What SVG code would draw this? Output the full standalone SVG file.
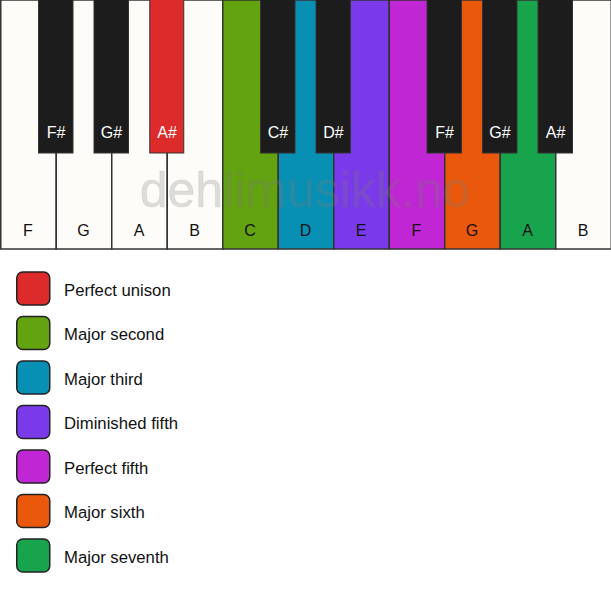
<svg xmlns="http://www.w3.org/2000/svg" width="611" height="594" viewBox="0 0 611 594">
<style>
.w{stroke:#333;stroke-width:1.5}
.b{stroke:#333;stroke-width:1}
.wl{font-family:"Liberation Sans",Arial,sans-serif;font-size:16px;fill:#111;text-anchor:middle}
.bl{font-family:"Liberation Sans",Arial,sans-serif;font-size:16px;fill:#fff;text-anchor:middle}
.lg{stroke:#222;stroke-width:1.5}
.lt{font-family:"Liberation Sans",Arial,sans-serif;font-size:16.7px;fill:#111}
</style>
<rect width="611" height="594" fill="#fff"/>
<g id="white-keys">
<g id="wk-F1"><rect class="w" x="0.75" y="0" width="55.5" height="249" fill="#fdfcf8"/><text class="wl" x="28" y="236">F</text></g>
<g id="wk-G1"><rect class="w" x="56.25" y="0" width="55.5" height="249" fill="#fdfcf8"/><text class="wl" x="83.5" y="236">G</text></g>
<g id="wk-A1"><rect class="w" x="111.75" y="0" width="55.5" height="249" fill="#fdfcf8"/><text class="wl" x="139" y="236">A</text></g>
<g id="wk-B1"><rect class="w" x="167.25" y="0" width="55.5" height="249" fill="#fdfcf8"/><text class="wl" x="194.5" y="236">B</text></g>
<g id="wk-C"><rect class="w" x="222.75" y="0" width="55.5" height="249" fill="#62a30f"/><text class="wl" x="250" y="236">C</text></g>
<g id="wk-D"><rect class="w" x="278.25" y="0" width="55.5" height="249" fill="#0890b4"/><text class="wl" x="305.5" y="236">D</text></g>
<g id="wk-E"><rect class="w" x="333.75" y="0" width="55.5" height="249" fill="#7b3aea"/><text class="wl" x="361" y="236">E</text></g>
<g id="wk-F2"><rect class="w" x="389.25" y="0" width="55.5" height="249" fill="#c026d3"/><text class="wl" x="416.5" y="236">F</text></g>
<g id="wk-G2"><rect class="w" x="444.75" y="0" width="55.5" height="249" fill="#ea580c"/><text class="wl" x="472" y="236">G</text></g>
<g id="wk-A2"><rect class="w" x="500.25" y="0" width="55.5" height="249" fill="#18a44c"/><text class="wl" x="527.5" y="236">A</text></g>
<g id="wk-B2"><rect class="w" x="555.75" y="0" width="55.5" height="249" fill="#fdfcf8"/><text class="wl" x="583" y="236">B</text></g>
</g>
<g id="black-keys">
<g id="bk-Fs1"><rect class="b" x="38.5" y="-1" width="34.5" height="154" fill="#1c1c1c"/><text class="bl" x="56" y="138">F#</text></g>
<g id="bk-Gs1"><rect class="b" x="94" y="-1" width="34.5" height="154" fill="#1c1c1c"/><text class="bl" x="111.5" y="138">G#</text></g>
<g id="bk-As1"><rect class="b" x="149.75" y="-1" width="34" height="154" fill="#dd2a2a"/><text class="bl" x="167" y="138">A#</text></g>
<g id="bk-Cs"><rect class="b" x="260.5" y="-1" width="34.5" height="154" fill="#1c1c1c"/><text class="bl" x="278" y="138">C#</text></g>
<g id="bk-Ds"><rect class="b" x="316" y="-1" width="34.5" height="154" fill="#1c1c1c"/><text class="bl" x="333.5" y="138">D#</text></g>
<g id="bk-Fs2"><rect class="b" x="427" y="-1" width="34.5" height="154" fill="#1c1c1c"/><text class="bl" x="444.5" y="138">F#</text></g>
<g id="bk-Gs2"><rect class="b" x="482.5" y="-1" width="34.5" height="154" fill="#1c1c1c"/><text class="bl" x="500" y="138">G#</text></g>
<g id="bk-As2"><rect class="b" x="538" y="-1" width="34.5" height="154" fill="#1c1c1c"/><text class="bl" x="555.5" y="138">A#</text></g>
</g>
<text id="watermark" x="305" y="207" font-family="'Liberation Sans',Arial,sans-serif" font-size="50" fill="#7a7a7a" fill-opacity="0.25" stroke="#7a7a7a" stroke-opacity="0.1" text-anchor="middle">dehlimusikk.no</text>
<g id="connectors"/>
<g id="legend">
<g id="lg-unison"><rect class="lg" x="16.75" y="272" width="33" height="33" rx="6" fill="#dd2a2a"/><text class="lt" x="64" y="295.5">Perfect unison</text></g>
<g id="lg-second"><rect class="lg" x="16.75" y="316.5" width="33" height="33" rx="6" fill="#62a30f"/><text class="lt" x="64" y="340">Major second</text></g>
<g id="lg-third"><rect class="lg" x="16.75" y="361" width="33" height="33" rx="6" fill="#0890b4"/><text class="lt" x="64" y="384.5">Major third</text></g>
<g id="lg-dim5"><rect class="lg" x="16.75" y="405.5" width="33" height="33" rx="6" fill="#7b3aea"/><text class="lt" x="64" y="429">Diminished fifth</text></g>
<g id="lg-p5"><rect class="lg" x="16.75" y="450" width="33" height="33" rx="6" fill="#c026d3"/><text class="lt" x="64" y="473.5">Perfect fifth</text></g>
<g id="lg-6"><rect class="lg" x="16.75" y="494.5" width="33" height="33" rx="6" fill="#ea580c"/><text class="lt" x="64" y="518">Major sixth</text></g>
<g id="lg-7"><rect class="lg" x="16.75" y="539" width="33" height="33" rx="6" fill="#18a44c"/><text class="lt" x="64" y="562.5">Major seventh</text></g>
</g>
</svg>
